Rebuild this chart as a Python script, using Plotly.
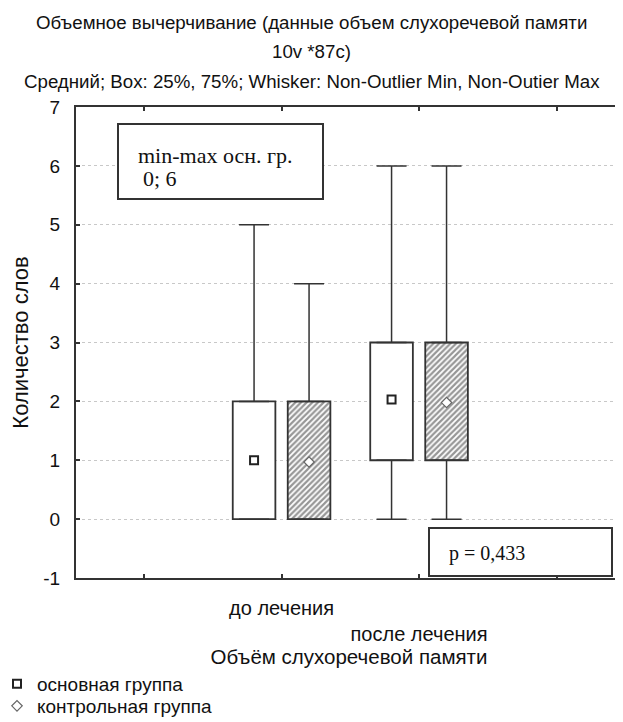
import plotly.graph_objects as go

# ---- data ----
categories = ["до лечения", "после лечения"]
cat_pos = [1, 2]

main_name = "основная группа"
main_mean = [1.0, 2.03]
main_q1 = [0, 1]
main_q3 = [2, 3]
main_min = [0, 0]
main_max = [5, 6]

ctrl_name = "контрольная группа"
ctrl_mean = [0.97, 1.98]
ctrl_q1 = [0, 1]
ctrl_q3 = [2, 3]
ctrl_min = [0, 0]
ctrl_max = [4, 6]

y_ticks = [-1, 0, 1, 2, 3, 4, 5, 6, 7]
y_ticktext = ["-1", "0", "1", "2", "3", "4", "5", "6", "7"]

title_lines = [
    "Объемное вычерчивание (данные объем слухоречевой памяти",
    "10v *87c)",
    "Средний; Box: 25%, 75%; Whisker: Non-Outlier Min, Non-Outier Max",
]
note_minmax = ["min-max осн. гр.", "0; 6"]
note_p = "p = 0,433"

# ---- style ----
# the page body adds an 8px margin, so the figure is drawn 8px smaller
OX, OY = 8, 8
W, H = 623 - OX, 722 - OY
ML, MR, MT, MB = 76 - OX, 1, 107 - OY, 144
PW, PH = W - ML - MR, H - MT - MB
SANS = "Liberation Sans, Arial, sans-serif"
SERIF = "Liberation Serif, Times New Roman, serif"
INK = "#333333"
TXT = "#111111"
OFFS = 0.2
BW = 0.31


def px2x(px):
    # window pixel -> paper x
    return (px - OX - ML) / PW


def py2y(py):
    # window pixel -> paper y
    return (H - MB - (py - OY)) / PH


fig = go.Figure()


def add_group(name, mean, q1, q3, mn, mx, off, hatched, symbol, msize,
              mline, legend_id):
    xs = [c + off for c in cat_pos]
    # whiskers via error bars
    fig.add_trace(go.Scatter(
        x=xs, y=q3, mode="markers", showlegend=False, hoverinfo="skip",
        marker=dict(size=1, color="rgba(0,0,0,0)"),
        error_y=dict(type="data", symmetric=False,
                     array=[b - a for a, b in zip(q3, mx)],
                     arrayminus=[0] * len(q3),
                     color=INK, thickness=1.5, width=15)))
    fig.add_trace(go.Scatter(
        x=xs, y=q1, mode="markers", showlegend=False, hoverinfo="skip",
        marker=dict(size=1, color="rgba(0,0,0,0)"),
        error_y=dict(type="data", symmetric=False,
                     array=[0] * len(q1),
                     arrayminus=[a - b for a, b in zip(q1, mn)],
                     color=INK, thickness=1.5, width=15)))
    # box body
    pattern = dict(shape="/", fgcolor="#2e2e2e", bgcolor="white",
                   size=4, solidity=0.55) if hatched else dict(shape="")
    fig.add_trace(go.Bar(
        x=xs, y=[b - a for a, b in zip(q1, q3)], base=q1, width=BW,
        showlegend=False, hoverinfo="skip",
        marker=dict(color="white", line=dict(color=INK, width=1.8),
                    pattern=pattern)))
    # mean markers (legend entries)
    fig.add_trace(go.Scatter(
        x=xs, y=mean, mode="markers", name=name, legend=legend_id,
        marker=dict(symbol=symbol, size=msize, color="white",
                    line=dict(color=mline[0], width=mline[1]))))


add_group(main_name, main_mean, main_q1, main_q3, main_min, main_max,
          -OFFS, False, "square", 8, ("#222222", 2), "legend")
add_group(ctrl_name, ctrl_mean, ctrl_q1, ctrl_q3, ctrl_min, ctrl_max,
          OFFS, True, "diamond", 8, ("#666666", 1.2), "legend2")

# ---- notes ----
shapes = [
    dict(type="rect", xref="paper", yref="paper",
         x0=px2x(118), x1=px2x(323), y0=py2y(199), y1=py2y(124),
         line=dict(color=INK, width=2), fillcolor="white", layer="above"),
    dict(type="rect", xref="paper", yref="paper",
         x0=px2x(429), x1=px2x(612), y0=py2y(576), y1=py2y(528),
         line=dict(color=INK, width=2), fillcolor="white", layer="above"),
]

annotations = []
for txt, yc in zip(title_lines, [22, 51, 81]):
    annotations.append(dict(text=txt, xref="paper", yref="paper",
                            x=px2x(311.5), y=py2y(yc), xanchor="center",
                            yanchor="middle", showarrow=False,
                            font=dict(family=SANS, size=18.7, color=TXT)))
annotations.append(dict(text=note_minmax[0], xref="paper", yref="paper",
                        x=px2x(136), y=py2y(155), xanchor="left",
                        yanchor="middle", showarrow=False,
                        font=dict(family=SERIF, size=22, color=TXT)))
annotations.append(dict(text=note_minmax[1], xref="paper", yref="paper",
                        x=px2x(141), y=py2y(178), xanchor="left",
                        yanchor="middle", showarrow=False,
                        font=dict(family=SERIF, size=22, color=TXT)))
annotations.append(dict(text=note_p, xref="paper", yref="paper",
                        x=px2x(447), y=py2y(553), xanchor="left",
                        yanchor="middle", showarrow=False,
                        font=dict(family=SERIF, size=20, color=TXT)))

legend_style = dict(xanchor="left", yanchor="top",
                    font=dict(family=SANS, size=19, color=TXT),
                    bgcolor="rgba(0,0,0,0)", itemwidth=30)

fig.update_layout(
    width=W, height=H,
    margin=dict(l=ML, r=MR, t=MT, b=MB, pad=0, autoexpand=False),
    paper_bgcolor="white", plot_bgcolor="white",
    shapes=shapes, annotations=annotations,
    barmode="overlay",
    showlegend=True,
    legend=dict(x=px2x(-3), y=py2y(665), **legend_style),
    legend2=dict(x=px2x(-3), y=py2y(687), **legend_style),
    xaxis=dict(
        range=[-0.495, 3.476],
        tickvals=[0, 1, 2, 3],
        ticktext=["", categories[0], "<br>" + categories[1], ""],
        ticks="inside", ticklen=4, tickcolor=INK, tickwidth=1.5,
        showline=True, linecolor=INK, linewidth=2, mirror="ticks",
        showgrid=False, zeroline=False, automargin=False,
        ticklabelstandoff=11,
        tickfont=dict(family=SANS, size=20, color=TXT),
        title=dict(text="Объём слухоречевой памяти", standoff=0,
                   font=dict(family=SANS, size=20.5, color=TXT)),
    ),
    yaxis=dict(
        range=[-1, 7],
        tickvals=y_ticks, ticktext=y_ticktext,
        ticks="inside", ticklen=4, tickcolor=INK, tickwidth=1.5,
        showline=True, linecolor=INK, linewidth=2, mirror=True,
        showgrid=True, gridcolor="#c8c8c8", griddash="dot", gridwidth=1,
        zeroline=False, automargin=False,
        ticklabelstandoff=10,
        tickfont=dict(family=SANS, size=19, color=TXT),
        title=dict(text="Количество слов", standoff=12,
                   font=dict(family=SANS, size=22, color=TXT)),
    ),
)

fig.write_html("out.html")
